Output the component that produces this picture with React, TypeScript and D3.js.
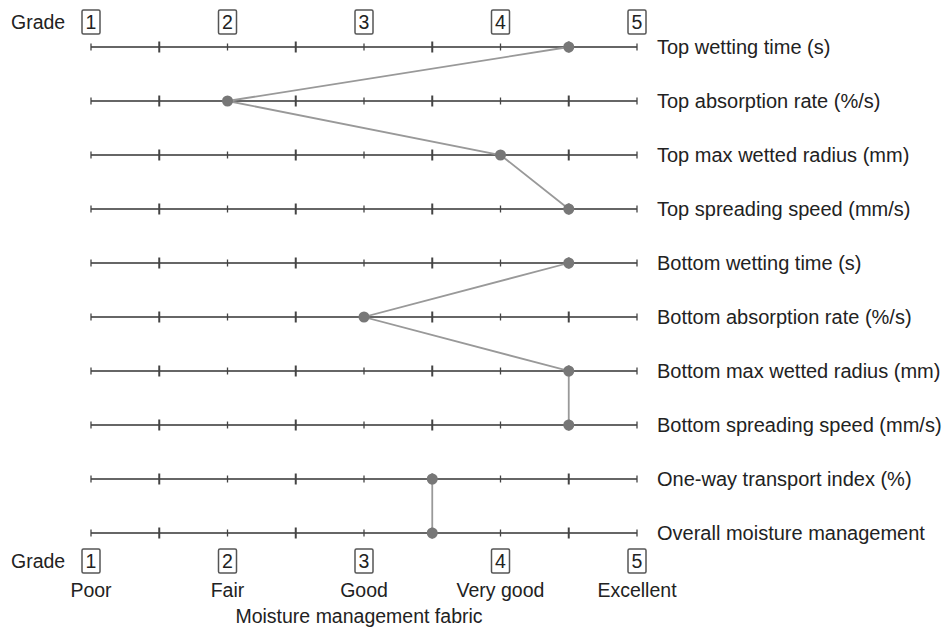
import React from 'react';
import * as d3 from 'd3';

const indices = [
  'Top wetting time (s)',
  'Top absorption rate (%/s)',
  'Top max wetted radius (mm)',
  'Top spreading speed (mm/s)',
  'Bottom wetting time (s)',
  'Bottom absorption rate (%/s)',
  'Bottom max wetted radius (mm)',
  'Bottom spreading speed (mm/s)',
  'One-way transport index (%)',
  'Overall moisture management',
];
const grades = [4.5, 2, 4, 4.5, 4.5, 3, 4.5, 4.5, 3.5, 3.5];
// indices that are joined by the profile line (top side, bottom side, overall)
const groups = [[0, 1, 2, 3], [4, 5, 6, 7], [8, 9]];
const gradeTicks = [1, 2, 3, 4, 5];
const halfTicks = [1.5, 2.5, 3.5, 4.5];
const gradeNames = ['Poor', 'Fair', 'Good', 'Very good', 'Excellent'];

const W = 945;
const H = 629;
const font = 'Liberation Sans, Arial, sans-serif';
const fs = 19.5;

const App: React.FC = () => {
  const x = d3.scaleLinear().domain([1, 5]).range([91, 637]);
  const y = d3.scalePoint<string>().domain(indices).range([47, 533]);

  const pts: [number, number][] = indices.map((d, i) => [x(grades[i]), y(d)!]);
  const line = d3.line();

  const gradeBox = (g: number, cy: number) => (
    <g key={`b${g}-${cy}`}>
      <rect x={x(g) - 9} y={cy - 12} width={18} height={24} fill="#fff" stroke="#555" strokeWidth={1.5} rx={1.5} />
      <text x={x(g)} y={cy + 7} textAnchor="middle" fontSize={fs} fill="#222">{g}</text>
    </g>
  );

  return (
    <svg width={W} height={H} style={{ position: 'absolute', left: 0, top: 0 }} fontFamily={font}>
      <rect width={W} height={H} fill="#fff" />
      <text x={11} y={29} fontSize={fs} fill="#222">Grade</text>
      {gradeTicks.map(g => gradeBox(g, 22))}

      {indices.map(d => (
        <g key={d}>
          <line x1={x(1)} x2={x(5)} y1={y(d)} y2={y(d)} stroke="#666" strokeWidth={2} />
          {gradeTicks.map(g => (
            <line key={g} x1={x(g)} x2={x(g)} y1={y(d)! - 3.5} y2={y(d)! + 3.5} stroke="#444" strokeWidth={1.3} />
          ))}
          {halfTicks.map(g => (
            <line key={g} x1={x(g)} x2={x(g)} y1={y(d)! - 5.5} y2={y(d)! + 5.5} stroke="#444" strokeWidth={2} />
          ))}
          <text x={657} y={y(d)! + 7} fontSize={20} fill="#222">{d}</text>
        </g>
      ))}

      {groups.map((gr, i) => (
        <path key={i} d={line(gr.map(j => pts[j])) ?? ''} fill="none" stroke="#999" strokeWidth={1.8} />
      ))}
      {pts.map((p, i) => (
        <circle key={i} cx={p[0]} cy={p[1]} r={5.5} fill="#777" />
      ))}

      <text x={11} y={568} fontSize={fs} fill="#222">Grade</text>
      {gradeTicks.map(g => gradeBox(g, 561))}
      {gradeNames.map((n, i) => (
        <text key={n} x={x(gradeTicks[i])} y={597} textAnchor="middle" fontSize={fs} fill="#222">{n}</text>
      ))}
      <text x={359} y={623} textAnchor="middle" fontSize={fs} fill="#222">Moisture management fabric</text>
    </svg>
  );
};

export default App;
